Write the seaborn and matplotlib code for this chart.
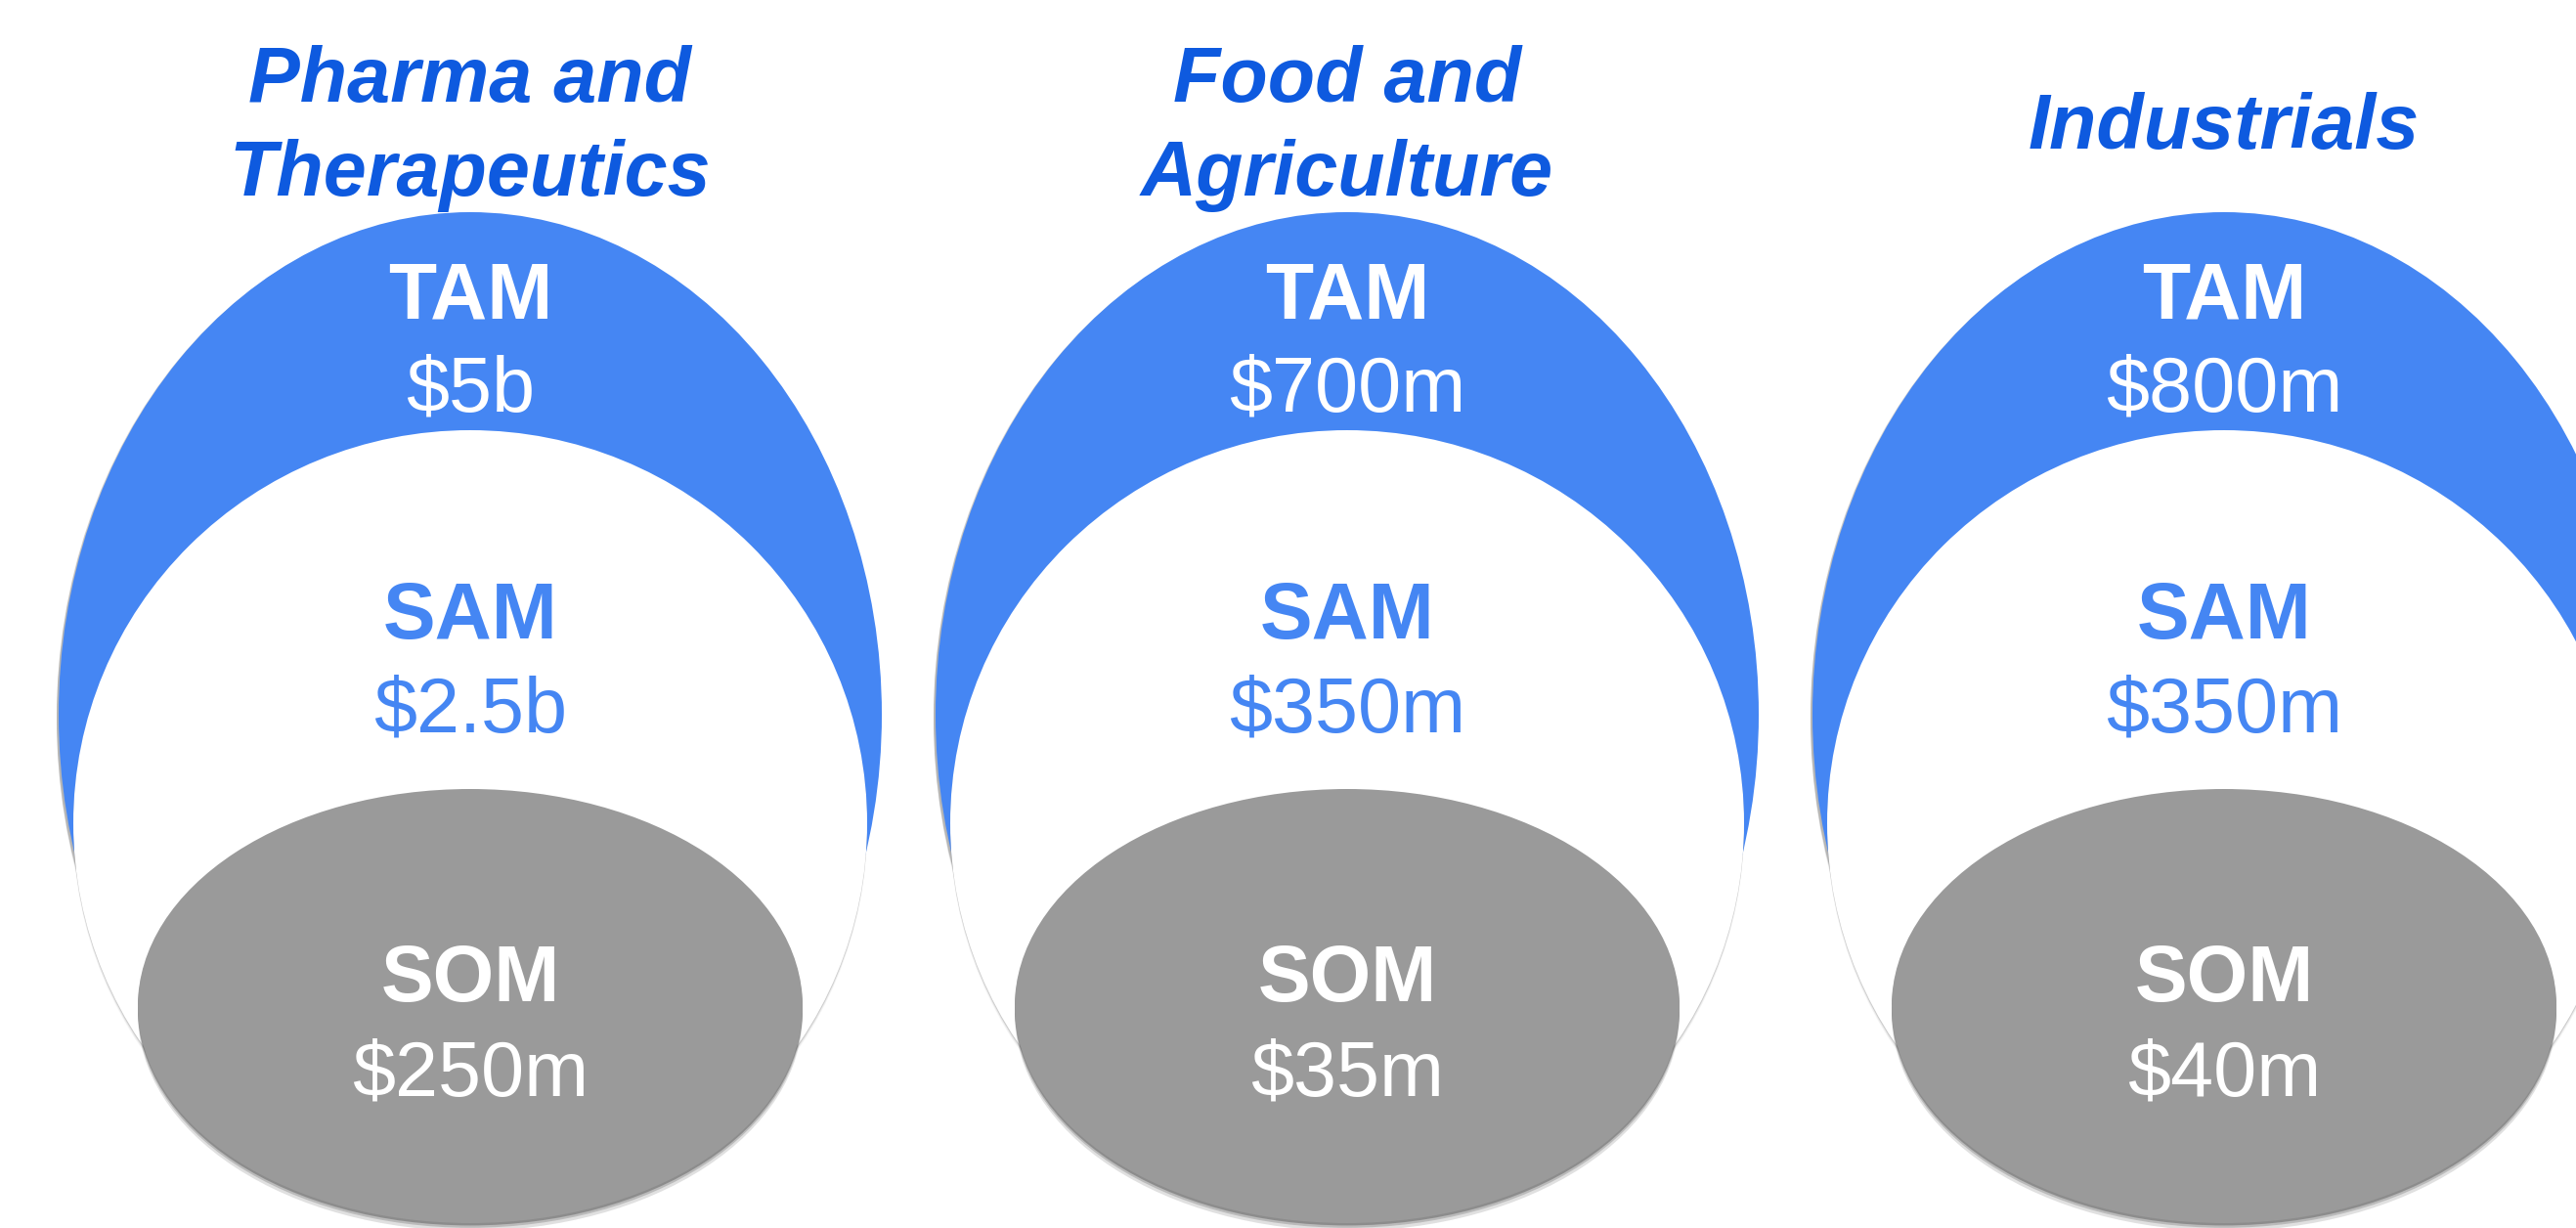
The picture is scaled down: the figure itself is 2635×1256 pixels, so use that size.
import matplotlib
matplotlib.use("Agg")
import matplotlib.pyplot as plt
from matplotlib.patches import Ellipse
import seaborn as sns

# ---- data ----
categories = ["Pharma and\nTherapeutics", "Food and\nAgriculture", "Industrials"]
tier_labels = ["TAM", "SAM", "SOM"]
tam_values = ["$5b", "$700m", "$800m"]
sam_values = ["$2.5b", "$350m", "$350m"]
som_values = ["$250m", "$35m", "$40m"]

# ---- style ----
sns.set_theme(style="white")
plt.rcParams['font.family'] = ['Liberation Sans', 'DejaVu Sans']

BLUE = "#4586F3"
TITLE_BLUE = "#0E5ADF"
GRAY = "#9A9A9A"
W, H = 2635, 1256
DPI = 100
FS_TITLE = 57
FS_TIER = 58
FS_VAL = 57

fig = plt.figure(figsize=(W / DPI, H / DPI), dpi=DPI)
ax = fig.add_axes([0, 0, 1, 1])
ax.set_xlim(0, W)
ax.set_ylim(H, 0)
ax.axis("off")

panel_x0 = 481
panel_dx = 897

# shapes: (center y, width, height)
tam_geom = (731, 842, 1028)
sam_geom = (842, 812, 804)
som_geom = (1029, 680, 444)


def shadow(cx, cy, w, h, dy, alpha, z):
    for k, a in zip((dy, dy * 0.6, dy * 0.3), (alpha * 0.4, alpha * 0.6, alpha)):
        ax.add_patch(Ellipse((cx, cy + k), w, h, facecolor="#555555",
                             edgecolor="none", alpha=a, zorder=z))


for i, cat in enumerate(categories):
    cx = panel_x0 + i * panel_dx
    # TAM
    cy, w, h = tam_geom
    shadow(cx - 2, cy, w, h, 6, 0.25, 1)
    ax.add_patch(Ellipse((cx, cy), w, h, facecolor=BLUE, edgecolor="none", zorder=2))
    # SAM
    cy, w, h = sam_geom
    shadow(cx, cy, w, h, 5, 0.18, 3)
    ax.add_patch(Ellipse((cx, cy), w, h, facecolor="white", edgecolor="none", zorder=4))
    # SOM
    cy, w, h = som_geom
    shadow(cx, cy, w, h, 8, 0.45, 5)
    ax.add_patch(Ellipse((cx, cy), w, h, facecolor=GRAY, edgecolor="none", zorder=6))

    # title lines
    lines = cat.split("\n")
    n = len(lines)
    mid = 152
    step = 96
    for j, line in enumerate(lines):
        base = mid + (j - (n - 1) / 2) * step
        ax.text(cx, base, line, ha="center", va="baseline", fontsize=FS_TITLE,
                fontweight="bold", fontstyle="italic", color=TITLE_BLUE, zorder=10)

    # labels
    ax.text(cx, 325, tier_labels[0], ha="center", va="baseline", fontsize=FS_TIER,
            fontweight="bold", color="white", zorder=10)
    ax.text(cx, 421, tam_values[i], ha="center", va="baseline", fontsize=FS_VAL,
            color="white", zorder=10)
    ax.text(cx, 653, tier_labels[1], ha="center", va="baseline", fontsize=FS_TIER,
            fontweight="bold", color=BLUE, zorder=10)
    ax.text(cx, 749, sam_values[i], ha="center", va="baseline", fontsize=FS_VAL,
            color=BLUE, zorder=10)
    ax.text(cx, 1024, tier_labels[2], ha="center", va="baseline", fontsize=FS_TIER,
            fontweight="bold", color="white", zorder=10)
    ax.text(cx, 1120, som_values[i], ha="center", va="baseline", fontsize=FS_VAL,
            color="white", zorder=10)

fig.savefig("out.png", dpi=DPI, facecolor="white")
